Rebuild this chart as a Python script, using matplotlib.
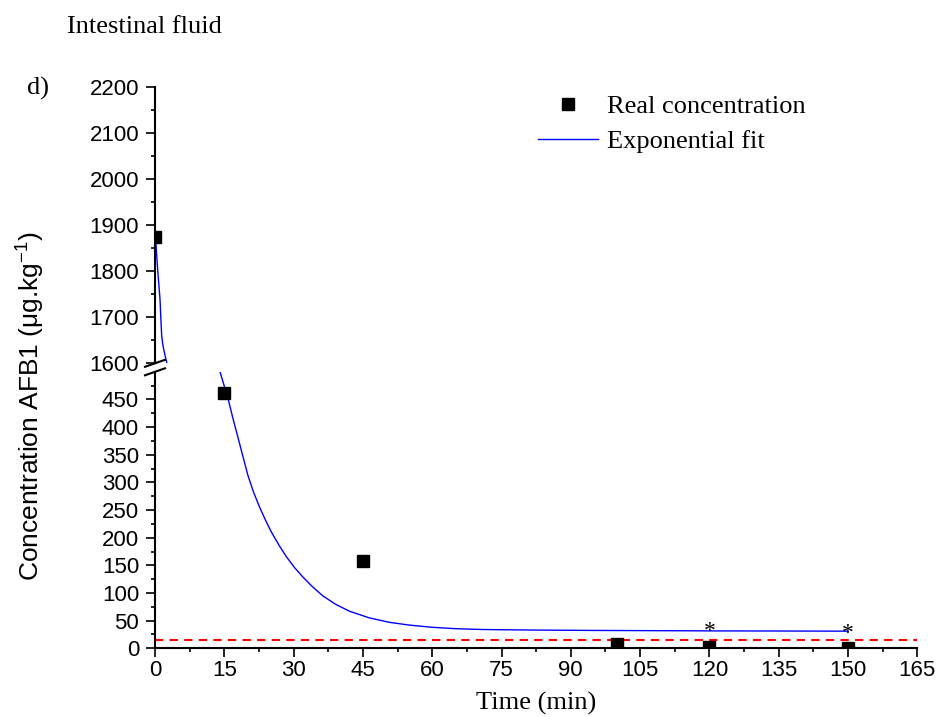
import matplotlib
matplotlib.use('Agg')
import matplotlib.pyplot as plt
from matplotlib.lines import Line2D

plt.rcParams['font.family'] = ['Liberation Sans', 'DejaVu Sans']
plt.rcParams['mathtext.fontset'] = 'custom'
plt.rcParams['mathtext.rm'] = 'Liberation Sans'
SERIF = ['Liberation Serif', 'DejaVu Serif']

# 数据
time_pts = [0, 15, 45, 100, 120, 150]
conc_pts = [1875, 461, 157, 7, 2, 1]

# 指数拟合曲线
fit_t = [0, 0.2, 0.4, 0.6, 0.8, 1.08, 1.3, 1.45, 1.7, 2.0, 2.5, 3.0,
         14.0, 14.5, 15.0, 15.8, 16.8, 18.0, 19.0, 20.1, 21.3, 22.6, 23.9,
         25.2, 26.8, 28.4, 30.2, 32.0, 34.0, 36.3, 39.0, 42.1, 46.4, 50.7,
         55, 60, 65, 70.8, 81.6, 95, 104.6, 120, 150]
fit_y = [1870, 1860, 1830, 1800, 1775, 1740, 1690, 1660, 1640, 1625, 1603, 1585,
         502, 488, 474, 452, 418, 380, 348, 313, 283, 256, 232,
         210, 187, 166, 146, 129, 112, 95, 80, 67, 55, 47,
         42, 38, 35.5, 34, 33, 32.3, 32, 31.5, 31]

star_t = [120, 150]
star_y = [30, 27]
loq = 15

xticks = list(range(0, 166, 15))
W, H = 939, 717

fig = plt.figure(figsize=(W / 100, H / 100), dpi=100)
x0, x1 = 155, 917.3
ax_top = fig.add_axes([x0 / W, 1 - 363.3 / H, (x1 - x0) / W, (363.3 - 87.3) / H])
ax_bot = fig.add_axes([x0 / W, 1 - 648.3 / H, (x1 - x0) / W, (648.3 - 371.8) / H])

for ax in (ax_top, ax_bot):
    ax.plot(fit_t, fit_y, color='#0000ff', lw=1.0, zorder=2)
    ax.plot(time_pts, conc_pts, 's', color='black', ms=8.8, zorder=3)
    ax.set_xlim(0, 165)
    ax.spines['top'].set_visible(False)
    ax.spines['right'].set_visible(False)
    ax.spines['left'].set_linewidth(1.5)
    ax.spines['bottom'].set_linewidth(1.5)
    ax.tick_params(axis='both', which='major', direction='out', length=6.5, width=1.2,
                   labelsize=16, pad=5)
    ax.tick_params(axis='both', which='minor', direction='out', length=3, width=1.2)

ax_top.set_ylim(1600, 2200)
ax_top.set_yticks(range(1600, 2201, 100))
ax_top.set_yticks(range(1650, 2200, 100), minor=True)
ax_top.spines['bottom'].set_visible(False)
ax_top.tick_params(axis='x', which='both', bottom=False, labelbottom=False)

ax_bot.set_ylim(0, 500)
ax_bot.set_yticks(range(0, 451, 50))
ax_bot.set_yticks(range(25, 500, 50), minor=True)
ax_bot.set_xticks(xticks)
ax_bot.set_xticks([t + 7.5 for t in xticks[:-1]], minor=True)
ax_bot.tick_params(axis='x', which='major', pad=2)
ax_bot.axhline(loq, color='red', lw=1.5, ls=(0, (4, 3)), zorder=1)
for t, y in zip(star_t, star_y):
    ax_bot.text(t, y, '*', ha='center', va='center', fontsize=17, family=SERIF)

# 断轴标记
for yb in (363.3, 371.8):
    fig.add_artist(Line2D([(x0 - 10) / W, (x0 + 10) / W],
                          [1 - (yb + 3.5) / H, 1 - (yb - 3.5) / H],
                          color='black', lw=1.5))

ax_bot.set_xlabel('Time (min)', fontsize=19, family=SERIF, labelpad=8)
fig.text(30 / W, 1 - 406 / H, 'Concentration AFB1 (μg.kg$^{\\mathrm{-1}}$)', rotation=90,
         ha='center', va='center', fontsize=19)
fig.text(27 / W, 1 - 88 / H, 'd)', ha='left', va='center', fontsize=19, family=SERIF)
fig.text(67 / W, 1 - 27 / H, 'Intestinal fluid', ha='left', va='center', fontsize=19,
         family=SERIF)

handles = [Line2D([], [], marker='s', ls='none', color='black', ms=8.8),
           Line2D([], [], color='#0000ff', lw=1.0)]
ax_top.legend(handles, ['Real concentration', 'Exponential fit'], loc='upper left',
              bbox_to_anchor=(538 / W, 1 - 95 / H), bbox_transform=fig.transFigure,
              frameon=False, prop={'family': SERIF, 'size': 19}, handlelength=2.27,
              handletextpad=0.34, labelspacing=0.43, borderpad=0, borderaxespad=0)

fig.savefig('out.png', dpi=100)
